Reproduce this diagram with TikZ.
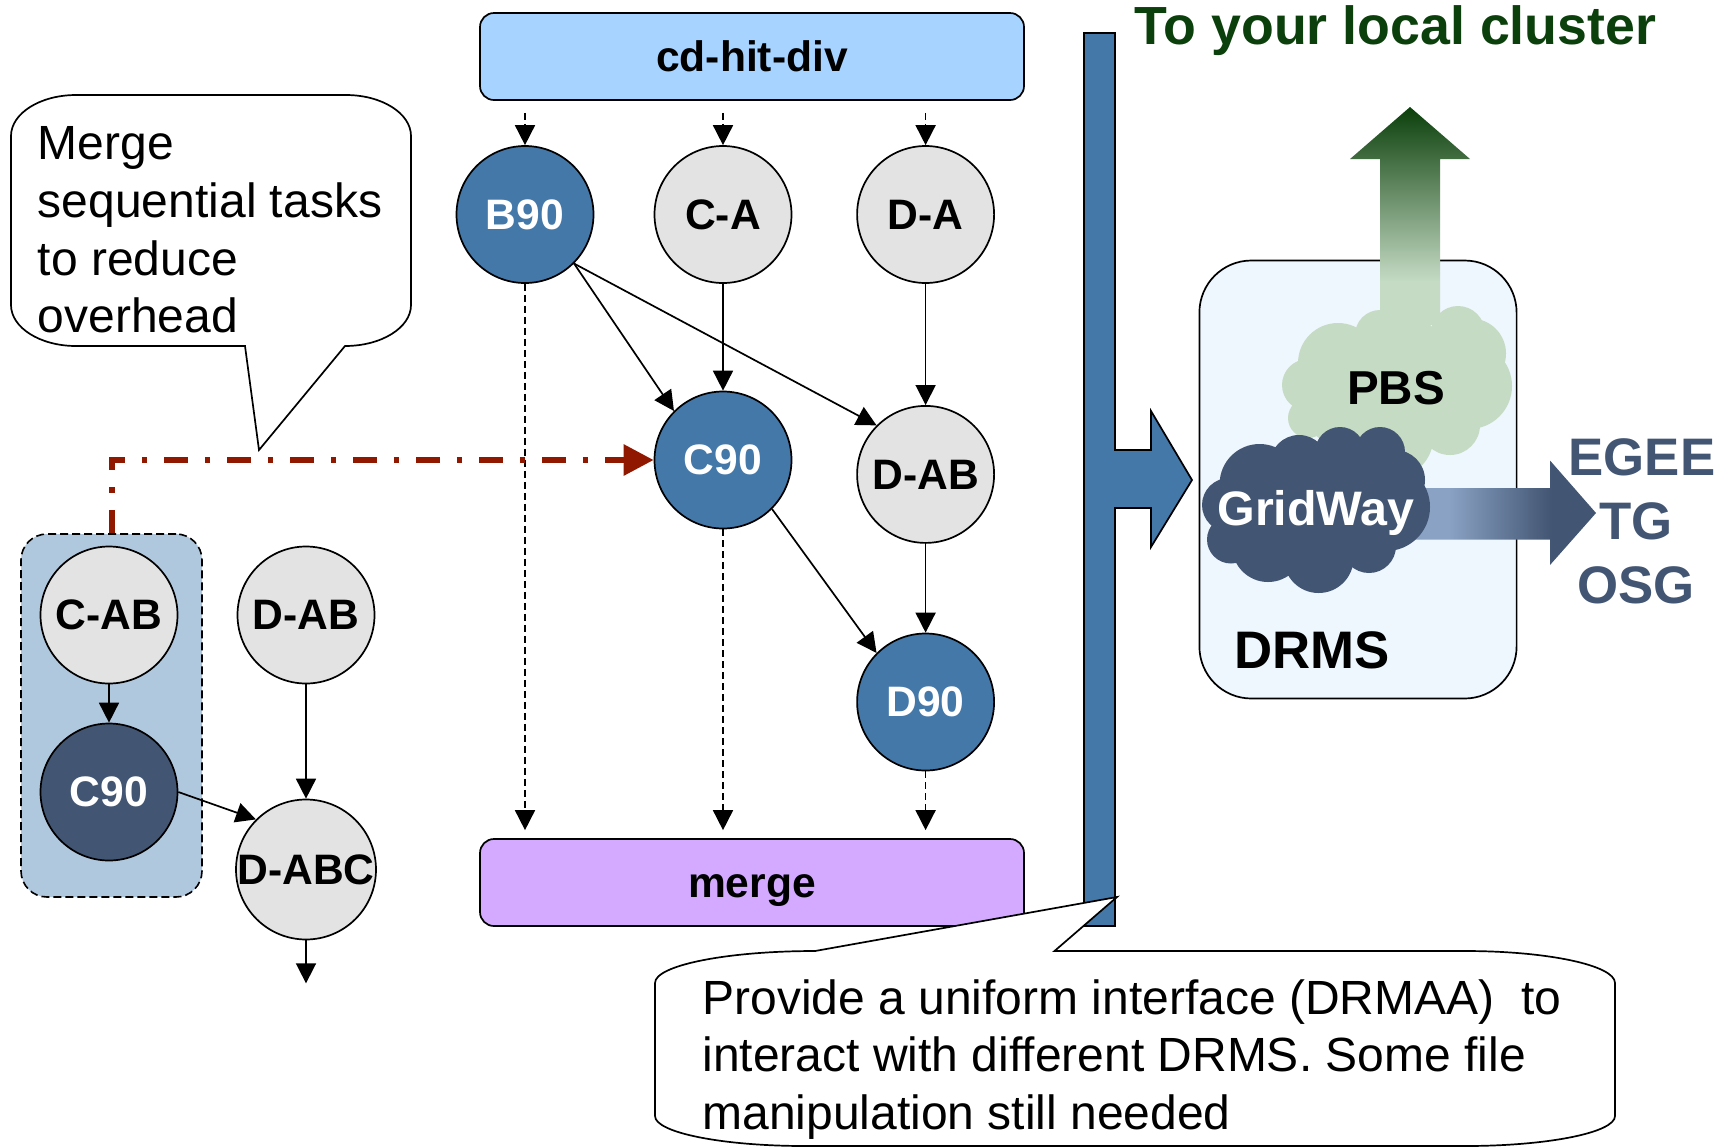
\documentclass[tikz,border=0pt]{standalone}
\usepackage{fontspec}
\setmainfont{Liberation Sans}
\definecolor{myblue1}{HTML}{4478A9}
\definecolor{mynavy}{HTML}{425572}
\definecolor{mygri1}{HTML}{E3E3E3}
\definecolor{mysky}{HTML}{A6D3FF}
\definecolor{mylil}{HTML}{D3AAFF}
\definecolor{mygroup}{HTML}{B0C8DE}
\definecolor{myred}{HTML}{901800}
\definecolor{mypale}{HTML}{EEF6FE}
\definecolor{mygre1}{HTML}{C5DBC4}
\definecolor{mygre2}{HTML}{0B3F0B}
\definecolor{myfade}{HTML}{8AA2C4}
\usetikzlibrary{positioning}
\usetikzlibrary{arrows.meta}
\pgfdeclareverticalshading{upfade}{100bp}{color(0bp)=(mygre1); color(35bp)=(mygre1); color(75bp)=(mygre2); color(100bp)=(mygre2)}
\pgfdeclarehorizontalshading{rightfade}{100bp}{color(0bp)=(myfade); color(35bp)=(myfade); color(63bp)=(mynavy); color(100bp)=(mynavy)}
\tikzstyle{task} = [circle, minimum size=68.5pt, inner sep=0pt, draw=black, line width=0.85pt, font=\fontsize{21.3}{25}\selectfont\bfseries]
\tikzstyle{idle} = [task, fill=mygri1, text=black]
\tikzstyle{busy} = [task, fill=myblue1, text=white]
\tikzstyle{done} = [task, fill=mynavy, text=white]
\tikzstyle{bar} = [rectangle, rounded corners=7pt, minimum width=272pt, minimum height=43.5pt, text height=15pt, text depth=0pt, draw=black, line width=0.85pt, font=\fontsize{21.3}{25}\selectfont\bfseries]
\tikzstyle{grid} = [inner sep=0pt, text=mynavy, font=\fontsize{26.4}{30}\selectfont\bfseries]
\tikzstyle{note} = [inner sep=0pt, anchor=north west, align=left, font=\fontsize{24}{28.8}\selectfont]
\tikzstyle{balloon} = [draw=black, fill=white, line width=0.85pt]
\tikzstyle{inout} = [line width=0.85pt,-{Triangle[length=10pt,width=10pt]}]
\tikzstyle{flow} = [inout,dash pattern=on 3.5pt off 2pt]
\begin{document}
\begin{tikzpicture}[x=0.5pt,y=-0.5pt]
	\useasboundingbox (0,0) rectangle (1734,1147);
	% left group
	\node (group) [rectangle, rounded corners=13pt, minimum width=90.5pt, minimum height=181.5pt, draw=black, fill=mygroup, line width=0.8pt, dash pattern=on 4pt off 2pt] at (111.5,715.5) {};
	\node (cab) [idle] at (109,615) {C-AB};
	\node (cdark) [done, below=19.15pt of cab] {C90};
	\node (dableft) [idle, right=29.15pt of cab] {D-AB};
	\node (dabc) [idle, below=57.15pt of dableft] {D-ABC};
	\coordinate [below=21.5pt of dabc] (dabcout);
	% middle column
	\node (cdhit) [bar, fill=mysky] at (752,56.5) {cd-hit-div};
	\node (merge) [bar, fill=mylil] at (752,882.5) {merge};
	\node (bninety) [busy] at (525,214.5) {B90};
	\node (ca) [idle, right=29.65pt of bninety] {C-A};
	\node (da) [idle, right=31.95pt of ca] {D-A};
	\node (cninety) [busy, below=53.4pt of ca] {C90};
	\node (dab) [idle, below=60.6pt of da] {D-AB};
	\node (dninety) [busy, below=44.45pt of dab] {D90};
	\draw [inout] (cab) -- (cdark);
	\draw [inout] (dableft) -- (dabc);
	\draw [inout] (cdark.east) -- (dabc.135);
	\draw [inout] (dabc) -- (dabcout);
	\draw [flow, shorten <=6pt] (cdhit.south -| bninety.north) -- (bninety.north);
	\draw [flow, shorten <=6pt] (cdhit.south -| ca.north) -- (ca.north);
	\draw [flow, shorten <=6pt] (cdhit.south -| da.north) -- (da.north);
	\draw [flow, shorten >=4pt] (bninety.south) -- (bninety.south |- merge.north);
	\draw [flow, shorten >=4pt] (cninety.south) -- (cninety.south |- merge.north);
	\draw [flow, shorten >=4pt] (dninety.south) -- (dninety.south |- merge.north);
	\draw [inout] (bninety.-45) -- (cninety.135);
	\draw [inout] (bninety.-45) -- (dab.135);
	\draw [inout] (ca) -- (cninety);
	\draw [inout] (da) -- (dab);
	\draw [inout] (dab) -- (dninety);
	\draw [inout] (cninety.-45) -- (dninety.135);
	\draw [line width=3pt, myred, dash pattern=on 11.8pt off 8.5pt on 2.7pt off 8.5pt, -{Triangle[length=15pt,width=15pt]}] (group.north) |- (cninety.west);
	% interface bar
	\draw [fill=myblue1, draw=black, line width=0.85pt] (1084,33) -- (1115,33) -- (1115,450) -- (1151,450) -- (1151,411) -- (1192,480) -- (1151,547) -- (1151,508) -- (1115,508) -- (1115,926) -- (1084,926) -- cycle;
	% DRMS
	\node (drms) [rectangle, rounded corners=26pt, minimum width=158.6pt, minimum height=219pt, draw=black, fill=mypale, line width=0.85pt] at (1358,479.5) {};
	\node (drmstext) [anchor=base west, inner sep=0pt, font=\fontsize{26.4}{30}\selectfont\bfseries] at (1234,668) {DRMS};
	\shade [shading=upfade] (1410,107) -- (1470,159) -- (1440,159) -- (1440,325) -- (1380,325) -- (1380,159) -- (1350,159) -- cycle;
	\shade [shading=rightfade] (1412,488) -- (1550,488) -- (1550,460.5) -- (1596,513) -- (1550,565) -- (1550,539.5) -- (1412,539.5) -- cycle;
	% clouds
	\fill [mygre1] (1338,363) circle (40) (1380,335) circle (25) (1412,342) circle (25) (1458,333) circle (27) (1471,353.5) circle (35) (1469,386) circle (43) (1450,425) circle (30) (1308,385) circle (26) (1308,418) circle (20) (1390.6,436) circle (43) (1390,385) circle (65) (1340,410) circle (35);
	\fill [mynavy] (1259.6,484) circle (40) (1299,464) circle (29) (1340,452) circle (25) (1380,452) circle (25) (1395,480) circle (30) (1386,507) circle (44) (1369,546) circle (27) (1318.6,558) circle (35) (1268,546) circle (36) (1231,539.5) circle (24) (1229,505) circle (27) (1310,510) circle (60) (1355,475) circle (30);
	\node (pbs) [inner sep=0pt, font=\fontsize{23.8}{27}\selectfont\bfseries] at (1396,388) {PBS};
	\node (gridway) [anchor=base, inner sep=0pt, text=white, font=\fontsize{24.2}{27}\selectfont\bfseries] at (1316,525) {GridWay};
	\node (egee) [grid] at (1642,457) {EGEE};
	\node (tg) [grid] at (1636,521) {TG};
	\node (osg) [grid] at (1636,585) {OSG};
	\node (cluster) [anchor=base west, inner sep=0pt, text=mygre2, font=\fontsize{26.85}{30}\selectfont\bfseries] at (1134.5,44) {To your local cluster};
	% balloons
	\draw [balloon] (11,136) arc[start angle=180,end angle=270,x radius=65,y radius=41] -- (346,95) arc[start angle=270,end angle=360,x radius=65,y radius=41] -- (411,305) arc[start angle=0,end angle=90,x radius=66,y radius=41] -- (345,346) -- (259,450) -- (245,346) -- (76,346) arc[start angle=90,end angle=180,x radius=65,y radius=41] -- cycle;
	\node (mergenote) [note] at (37.5,126.5) {Merge\\sequential tasks\\to reduce\\overhead};
	\draw [balloon] (655,983) arc[start angle=180,end angle=270,x radius=160,y radius=32] -- (1117,897) -- (1054.5,951) -- (1465,951) arc[start angle=270,end angle=360,x radius=150,y radius=32] -- (1615,1116) arc[start angle=0,end angle=90,x radius=150,y radius=30] -- (805,1146) arc[start angle=90,end angle=180,x radius=150,y radius=30] -- cycle;
	\node (drmaanote) [note] at (702,979) {Provide a uniform interface (DRMAA)~ to\\interact with different DRMS. Some file\\manipulation still needed};
\end{tikzpicture}
\end{document}
